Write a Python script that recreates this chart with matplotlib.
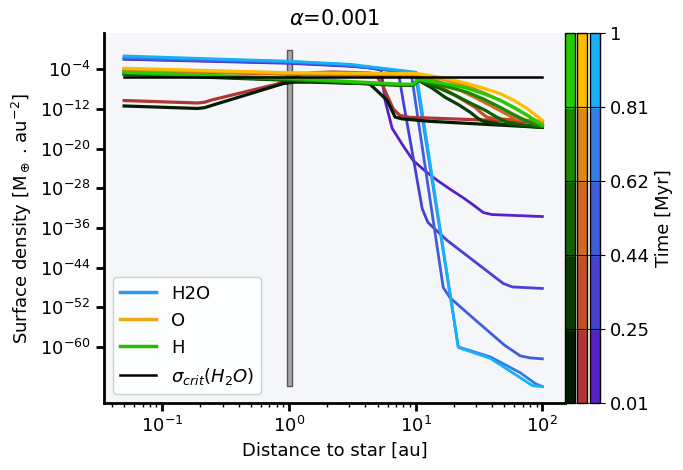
import matplotlib
matplotlib.use("Agg")
import matplotlib.pyplot as plt
import numpy as np
from matplotlib.colors import ListedColormap, BoundaryNorm
from matplotlib.cm import ScalarMappable
from matplotlib.lines import Line2D

# time bands (Myr) and colours per species, earliest -> latest
time_edges = [0.01, 0.25, 0.44, 0.62, 0.81, 1.0]
time_labels = ['0.01', '0.25', '0.44', '0.62', '0.81', '1']
h_colors = ['#021c02', '#0a3c02', '#126000', '#1a8800', '#22cc00']
o_colors = ['#b03535', '#c45028', '#d06a22', '#de8818', '#fcbc00']
w_colors = ['#5522c8', '#4742d0', '#3e5edc', '#317ee6', '#18b0f8']

# H2O surface density: distance [au], log10(sigma)
h2o_x = [
    [0.05, 1, 3.04, 4.37, 5.34, 5.74, 6.52, 8.0, 9.56, 12.0, 14.8, 19.0, 23.7, 29.0, 34.2, 40.0, 100],
    [0.05, 1, 3.04, 7.28, 7.96, 11.26, 12.5, 17.7, 30.0, 49.1, 58.0, 100],
    [0.05, 1, 3.04, 9.22, 16.5, 18.7, 30.0, 50.0, 66.9, 80.0, 100],
    [0.05, 1, 3.04, 9.91, 21.7, 38.8, 66.9, 88.0, 100],
    [0.05, 1, 3.04, 10.1, 21.7, 38.8, 66.9, 83.3, 100],
]
h2o_logy = [
    [-1.98, -2.79, -3.39, -3.7, -4.2, -10.3, -15.9, -19.5, -22.4, -24.6, -26.4, -28.3, -29.9, -31.5, -32.9, -33.3, -33.7],
    [-1.9, -2.7, -3.3, -4.4, -10.3, -32.1, -34.9, -38.5, -43.0, -47.2, -47.9, -48.2],
    [-1.78, -2.6, -3.2, -4.8, -48.0, -50.1, -54.7, -59.6, -61.8, -62.2, -62.4],
    [-1.58, -2.45, -3.1, -4.7, -60.0, -62.0, -65.2, -67.4, -68.0],
    [-1.31, -2.38, -3.0, -4.6, -60.1, -62.3, -66.2, -67.8, -68.0],
]

# O
o_x = [
    [0.05, 0.19, 0.215, 0.245, 0.8, 1.0, 1.2, 1.5, 2.23, 4.3, 4.61, 5.0, 5.54, 6.65, 7.5, 9.0, 100],
    [0.05, 1, 7.54, 10.3, 14.0, 18.7, 24.0, 29.5, 33.0, 36.7, 45.0, 100],
    [0.05, 1, 7.54, 10.3, 16.0, 22.5, 30.0, 38.8, 50.0, 61.1, 75.0, 100],
    [0.05, 1, 7.54, 10.3, 17.0, 25.7, 35.0, 46.5, 60.0, 76.1, 88.0, 100],
    [0.05, 1, 7.54, 10.3, 17.0, 25.7, 35.0, 46.5, 60.0, 76.1, 90.0, 100],
]
o_logy = [
    [-10.3, -10.8, -10.65, -10.2, -7.0, -6.0, -5.2, -4.7, -4.55, -4.75, -4.87, -5.6, -7.5, -12.0, -13.3, -13.7, -14.65],
    [-4.2, -5.0, -5.2, -5.41, -6.8, -8.65, -10.3, -11.7, -12.8, -13.7, -14.0, -14.5],
    [-4.1, -4.9, -5.1, -5.21, -6.7, -8.24, -9.8, -11.27, -12.8, -13.9, -14.3, -14.7],
    [-4.0, -4.8, -5.0, -5.0, -6.1, -7.43, -8.8, -10.26, -11.8, -13.29, -14.3, -14.9],
    [-3.8, -4.7, -4.85, -4.87, -5.8, -6.89, -7.9, -8.91, -10.3, -11.94, -13.4, -14.3],
]

# H
h_x = [
    [0.05, 0.19, 0.215, 0.245, 0.897, 1.1, 1.5, 4.3, 4.61, 5.95, 6.88, 7.8, 13.0, 100],
    [0.05, 1, 7.54, 9.56, 10.5, 13.5, 17.1, 22.0, 27.0, 31.0, 34.2, 45.0, 100],
    [0.05, 1, 7.54, 9.56, 10.5, 15.0, 20.5, 27.0, 35.5, 44.0, 52.8, 65.0, 100],
    [0.05, 1, 7.54, 9.56, 10.5, 17.0, 25.7, 35.0, 46.5, 60.0, 76.1, 88.0, 100],
    [0.05, 1, 7.54, 9.56, 10.5, 17.0, 25.7, 35.0, 46.5, 60.0, 76.1, 90.0, 100],
]
h_logy = [
    [-11.4, -11.9, -11.75, -11.3, -6.9, -6.6, -6.6, -6.9, -7.58, -10.26, -13.63, -14.0, -14.5, -15.72],
    [-5.0, -6.22, -7.23, -7.23, -6.22, -7.8, -9.66, -11.2, -12.69, -13.9, -14.5, -15.0, -15.72],
    [-4.9, -6.1, -7.2, -7.2, -6.22, -7.7, -9.25, -10.8, -12.28, -13.7, -14.7, -15.1, -15.52],
    [-4.81, -6.0, -7.1, -7.1, -6.22, -7.4, -8.65, -10.1, -11.68, -13.2, -14.5, -15.2, -15.52],
    [-4.6, -5.8, -7.0, -7.0, -6.02, -6.9, -7.84, -9.0, -10.26, -11.7, -13.29, -14.6, -15.31],
]

crit_x = [0.05, 100]
crit_logy = [-5.56, -5.56]

# grey marker at 1 au
bar_x = [0.96, 1.06]
bar_logy = [-67.8, -0.16]

plt.rcParams['font.size'] = 13

fig = plt.figure(figsize=(6.83, 4.70), dpi=100)
ax = fig.add_axes([0.1523, 0.1426, 0.675, 0.787])
ax.set_facecolor('#f5f6f9')

ax.fill_betweenx(10.0 ** np.array(bar_logy), bar_x[0], bar_x[1],
                 facecolor='#a9a9a9', edgecolor='#555555', lw=1, zorder=1)

for xs, ys, colors, lw in [(h2o_x, h2o_logy, w_colors, 2.0),
                           (o_x, o_logy, o_colors, 2.3),
                           (h_x, h_logy, h_colors, 2.3)]:
    for i in range(len(xs)):
        ax.plot(xs[i], 10.0 ** np.array(ys[i]), color=colors[i], lw=lw, zorder=2)

ax.plot(crit_x, 10.0 ** np.array(crit_logy), color='black', lw=1.8, zorder=3)

ax.set_xscale('log')
ax.set_yscale('log')
ax.set_xlim(0.0347, 151)
ax.set_ylim(10 ** -71.3, 10 ** 3.3)
ax.set_yticks([10.0 ** e for e in range(-4, -61, -8)])
ax.yaxis.set_minor_locator(matplotlib.ticker.NullLocator())

for s in ['top', 'right']:
    ax.spines[s].set_visible(False)
for s in ['left', 'bottom']:
    ax.spines[s].set_linewidth(2)
ax.tick_params(which='major', width=2, length=6)
ax.tick_params(which='minor', width=1, length=3)

ax.set_xlabel('Distance to star [au]')
ax.set_ylabel(r'Surface density [M$_\oplus$ . au$^{-2}$]')
ax.set_title(r'$\alpha$=0.001', fontsize=15)

handles = [
    Line2D([0], [0], color='#2d9cf0', lw=2.5, label='H2O'),
    Line2D([0], [0], color='#f0a818', lw=2.5, label='O'),
    Line2D([0], [0], color='#22bb00', lw=2.5, label='H'),
    Line2D([0], [0], color='black', lw=1.8, label=r'$\sigma_{crit}(H_2O)$'),
]
ax.legend(handles=handles, loc='lower left', fontsize=13, framealpha=0.9)

# three discrete colourbars
pos = ax.get_position()
norm = BoundaryNorm(time_edges, 5)
cb_left = [565 / 683, 577 / 683, 590 / 683]
for k, cols in enumerate([h_colors, o_colors, w_colors]):
    cax = fig.add_axes([cb_left[k], pos.y0, 10 / 683, pos.height])
    sm = ScalarMappable(norm=norm, cmap=ListedColormap(cols))
    cb = fig.colorbar(sm, cax=cax, spacing='uniform', ticks=time_edges)
    cb.outline.set_linewidth(1)
    cb.solids.set_edgecolor('face')
    for e in range(1, 5):
        cax.axhline(time_edges[e], color='black', lw=0.8)
    if k < 2:
        cax.set_yticks([])
    else:
        cb.set_ticklabels(time_labels)
        cb.set_label('Time [Myr]')

fig.savefig('out.png', dpi=100)
